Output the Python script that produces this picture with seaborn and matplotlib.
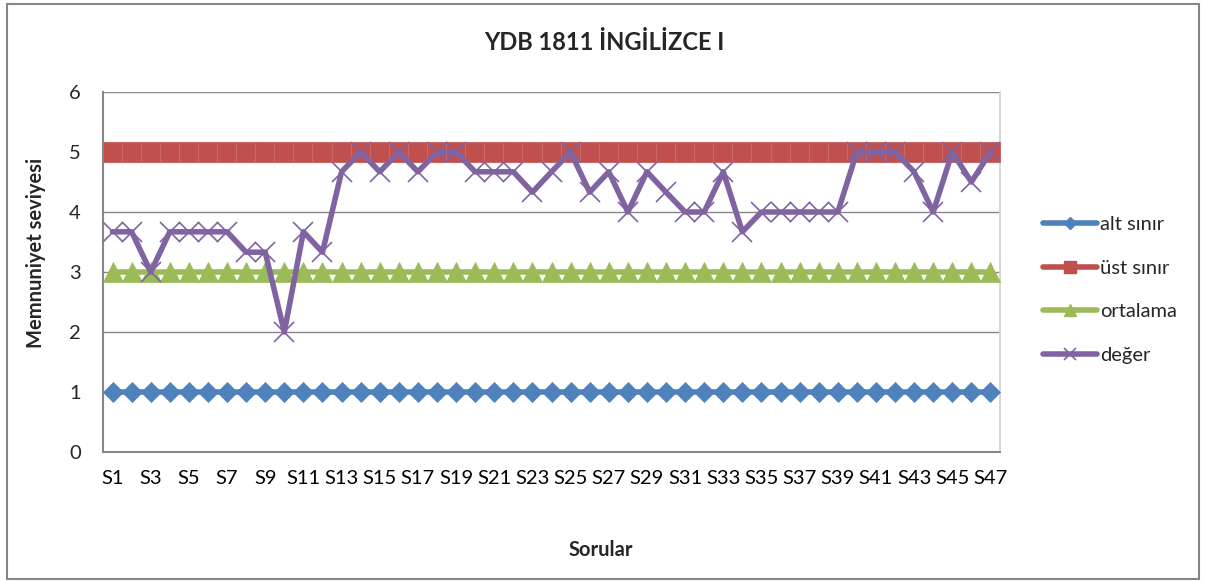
import matplotlib
matplotlib.use("Agg")
import matplotlib.pyplot as plt
import seaborn as sns
import pandas as pd
from matplotlib.patches import Rectangle
from matplotlib.lines import Line2D

categories = ["S1", "S2", "S3", "S4", "S5", "S6", "S7", "S8", "S9", "S10",
              "S11", "S12", "S13", "S14", "S15", "S16", "S17", "S18", "S19", "S20",
              "S21", "S22", "S23", "S24", "S25", "S26", "S27", "S28", "S29", "S30",
              "S31", "S32", "S33", "S34", "S35", "S36", "S37", "S38", "S39", "S40",
              "S41", "S42", "S43", "S44", "S45", "S46", "S47"]

alt_sinir = [1, 1, 1, 1, 1, 1, 1, 1, 1, 1, 1, 1, 1, 1, 1, 1, 1, 1, 1, 1, 1, 1, 1, 1,
             1, 1, 1, 1, 1, 1, 1, 1, 1, 1, 1, 1, 1, 1, 1, 1, 1, 1, 1, 1, 1, 1, 1]
ust_sinir = [5, 5, 5, 5, 5, 5, 5, 5, 5, 5, 5, 5, 5, 5, 5, 5, 5, 5, 5, 5, 5, 5, 5, 5,
             5, 5, 5, 5, 5, 5, 5, 5, 5, 5, 5, 5, 5, 5, 5, 5, 5, 5, 5, 5, 5, 5, 5]
ortalama = [3, 3, 3, 3, 3, 3, 3, 3, 3, 3, 3, 3, 3, 3, 3, 3, 3, 3, 3, 3, 3, 3, 3, 3,
            3, 3, 3, 3, 3, 3, 3, 3, 3, 3, 3, 3, 3, 3, 3, 3, 3, 3, 3, 3, 3, 3, 3]
deger = [3.67, 3.67, 3.00, 3.67, 3.67, 3.67, 3.67, 3.33, 3.33, 2.00,
         3.67, 3.33, 4.67, 5.00, 4.67, 5.00, 4.67, 5.00, 5.00, 4.67,
         4.67, 4.67, 4.33, 4.67, 5.00, 4.33, 4.67, 4.00, 4.67, 4.33,
         4.00, 4.00, 4.67, 3.67, 4.00, 4.00, 4.00, 4.00, 4.00, 5.00,
         5.00, 5.00, 4.67, 4.00, 5.00, 4.50, 5.00]

series_names = ["alt sınır", "üst sınır", "ortalama", "değer"]
yticks = [0, 1, 2, 3, 4, 5, 6]

sns.set_theme(style="white")
plt.rcParams["font.family"] = ["Lato", "DejaVu Sans"]

fig = plt.figure(figsize=(12.08, 5.81), dpi=100)
ax = fig.add_axes([103 / 1208, 1 - 452 / 581, (1000 - 103) / 1208, (452 - 92) / 581])

idx = list(range(len(categories)))
df = pd.DataFrame({"idx": idx, "alt": alt_sinir, "ust": ust_sinir,
                   "ort": ortalama, "deg": deger})

blue, red, green, purple = "#4F81BD", "#C0504D", "#9BBB59", "#8064A2"
grid_c = "#878787"

for yv in yticks[1:]:
    ax.axhline(yv, color=grid_c, lw=1.0, zorder=1)

sns.lineplot(data=df, x="idx", y="alt", ax=ax, color=blue, lw=4, marker="D",
             markersize=10.5, markeredgecolor=blue, markeredgewidth=0.5, zorder=3)
sns.lineplot(data=df, x="idx", y="ust", ax=ax, color=red, lw=4, marker="s",
             markersize=14, markeredgecolor="#C96866", markeredgewidth=0.8, zorder=3)
sns.lineplot(data=df, x="idx", y="ort", ax=ax, color=green, lw=4, marker="^",
             markersize=15, markeredgecolor=green, markeredgewidth=0.5, zorder=3)
sns.lineplot(data=df, x="idx", y="deg", ax=ax, color=purple, lw=4, marker="x",
             markersize=14.5, markeredgecolor=purple, markeredgewidth=1.2, zorder=4)

ax.set_xlim(-0.5, len(categories) - 0.5)
ax.set_ylim(0, 6)
ax.set_yticks(yticks)
ax.set_yticklabels([str(v) for v in yticks], fontsize=14.5)
ax.set_xticks(idx[::2])
ax.set_xticklabels(categories[::2], fontsize=14.5)
ax.set_xticks([i - 0.5 for i in range(len(categories) + 1)], minor=True)
ax.tick_params(axis="x", which="major", length=0, pad=13, colors="black")
ax.tick_params(axis="x", which="minor", length=5, width=1, color=grid_c, direction="out")
ax.tick_params(axis="y", length=5, width=1, color=grid_c, direction="out", pad=11)
ax.set_xlabel("")
ax.set_ylabel("")
ax.grid(False)

for s in ["left", "bottom"]:
    ax.spines[s].set_color(grid_c)
    ax.spines[s].set_linewidth(1.5)
ax.spines["top"].set_visible(False)
ax.spines["right"].set_color("#D0D0D0")
ax.spines["right"].set_linewidth(1.2)

fig.text(604 / 1208, 1 - 42 / 581, "YDB 1811 İNGİLİZCE I", ha="center", va="center",
         fontsize=17, fontweight="bold")
fig.text(601 / 1208, 1 - 550 / 581, "Sorular", ha="center", va="center",
         fontsize=14.5, fontweight="bold")
fig.text(36 / 1208, 1 - 253 / 581, "Memnuniyet seviyesi", ha="center", va="center",
         rotation=90, fontsize=14.5, fontweight="bold")

handles = [
    Line2D([], [], color=blue, lw=4, marker="D", markersize=6, markeredgecolor=blue),
    Line2D([], [], color=red, lw=4, marker="s", markersize=8, markeredgecolor=red),
    Line2D([], [], color=green, lw=4, marker="^", markersize=8, markeredgecolor=green),
    Line2D([], [], color=purple, lw=4, marker="x", markersize=8, markeredgecolor=purple,
           markeredgewidth=1.2),
]
fig.legend(handles, series_names, loc="center left",
           bbox_to_anchor=(1043 / 1208, 1 - 290 / 581), frameon=False, fontsize=14.5,
           handlelength=2.7, handletextpad=0.15, labelspacing=1.32, borderpad=0,
           borderaxespad=0)

fig.patches.append(Rectangle((7 / 1208, 1 - 579 / 581), (1199 - 7) / 1208, (579 - 4) / 581,
                             transform=fig.transFigure, fill=False, edgecolor="#868686",
                             lw=1.5, zorder=10))

fig.savefig("out.png", dpi=100)
